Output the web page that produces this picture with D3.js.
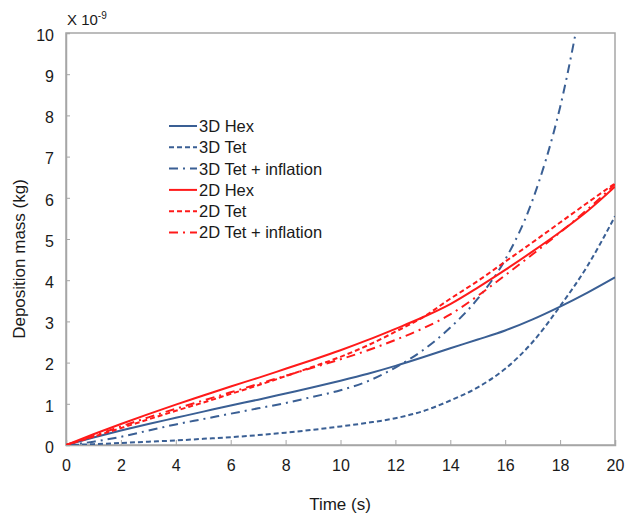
<!DOCTYPE html>
<html><head><meta charset="utf-8">
<script src="https://cdn.jsdelivr.net/npm/d3@7"></script>
<style>
body{margin:0;background:#fff;}
text{font-family:"Liberation Sans",Arial,sans-serif;fill:#1a1a1a;}
</style></head>
<body><svg id="c" width="626" height="515"></svg>
<script>
const times = [0,1,2,3,4,5,6,7,8,9,10,11,12,13,14,15,16,17,18,19,20];
const hex3D    = [0,0.18,0.35,0.51,0.66,0.81,0.96,1.1,1.25,1.4,1.56,1.73,1.92,2.13,2.35,2.56,2.78,3.05,3.36,3.7,4.07];
const tet3D    = [0,0.02,0.05,0.08,0.11,0.15,0.19,0.24,0.3,0.37,0.45,0.54,0.65,0.82,1.08,1.4,1.85,2.5,3.37,4.35,5.55];
const tetInf3D = [0,0.08,0.2,0.35,0.5,0.63,0.76,0.89,1.02,1.17,1.33,1.55,1.88,2.3,2.85,3.55,4.5,5.95,8.2,11.5,15];
const hex2D    = [0,0.26,0.51,0.75,0.98,1.2,1.42,1.63,1.85,2.07,2.3,2.55,2.82,3.1,3.42,3.82,4.25,4.7,5.17,5.68,6.27];
const tet2D    = [0,0.2,0.41,0.62,0.83,1.03,1.24,1.45,1.67,1.9,2.14,2.42,2.75,3.1,3.55,3.98,4.45,4.92,5.4,5.88,6.35];
const tetInf2D = [0,0.22,0.45,0.67,0.88,1.08,1.28,1.48,1.68,1.88,2.08,2.3,2.55,2.83,3.17,3.62,4.12,4.63,5.16,5.72,6.33];
const seriesNames = ["3D Hex","3D Tet","3D Tet + inflation","2D Hex","2D Tet","2D Tet + inflation"];
const xTicks = [0,2,4,6,8,10,12,14,16,18,20];
const yTicks = [0,1,2,3,4,5,6,7,8,9,10];

const blue = "#3a5f94", red = "#ff1a1a";
const styles = [
  {c:blue, d:null},{c:blue, d:"5,3"},{c:blue, d:"9,5,2,5"},
  {c:red, d:null},{c:red, d:"5,3"},{c:red, d:"9,5,2,5"}
];
const data = [hex3D, tet3D, tetInf3D, hex2D, tet2D, tetInf2D];

const svg = d3.select("#c");
const L=66, R=615, T=33, B=445;
const x = d3.scaleLinear().domain([0,20]).range([L,R]);
const y = d3.scaleLinear().domain([0,10]).range([B,T]);
const grey = "#a6a6a6";

svg.append("defs").append("clipPath").attr("id","clip")
  .append("rect").attr("x",L).attr("y",T).attr("width",R-L).attr("height",B-T);

svg.append("rect").attr("x",L).attr("y",T).attr("width",R-L).attr("height",B-T)
  .attr("fill","none").attr("stroke",grey).attr("stroke-width",1.5);

const xAxis = svg.append("g").attr("transform",`translate(0,${B})`)
  .call(d3.axisBottom(x).tickValues(xTicks).tickSize(-5).tickPadding(12).tickFormat(d3.format("d")));
const yAxis = svg.append("g").attr("transform",`translate(${L},0)`)
  .call(d3.axisLeft(y).tickValues(yTicks).tickSize(-4).tickPadding(12).tickFormat(d3.format("d")));
[xAxis,yAxis].forEach(a=>{
  a.select(".domain").attr("stroke",grey).attr("stroke-width",1.5);
  a.selectAll(".tick line").attr("stroke",grey);
  a.selectAll("text").attr("font-size",16).attr("font-family","Liberation Sans, Arial, sans-serif").attr("fill","#1a1a1a");
});
xAxis.selectAll("text").attr("dy","0.9em");
yAxis.selectAll("text").attr("dy","0.45em");

const line = d3.line().x((d,i)=>x(times[i])).y(d=>y(d)).curve(d3.curveMonotoneX);
const g = svg.append("g").attr("clip-path","url(#clip)");
data.forEach((s,k)=>{
  g.append("path").attr("d",line(s)).attr("fill","none")
    .attr("stroke",styles[k].c).attr("stroke-width",2)
    .attr("stroke-dasharray",styles[k].d);
});

const lg = svg.append("g");
seriesNames.forEach((n,k)=>{
  const yy = 126 + k*21.3;
  lg.append("line").attr("x1",169).attr("x2",197).attr("y1",yy).attr("y2",yy)
    .attr("stroke",styles[k].c).attr("stroke-width",2).attr("stroke-dasharray",styles[k].d);
  lg.append("text").attr("x",199).attr("y",yy).attr("dy","0.36em").attr("font-size",16.5).text(n);
});

const ex = svg.append("text").attr("x",67).attr("y",25).attr("font-size",15);
ex.append("tspan").text("X 10");
ex.append("tspan").attr("font-size",10).attr("dy",-6).text("-9");

svg.append("text").attr("x",340).attr("y",510).attr("text-anchor","middle").attr("font-size",17).text("Time (s)");
svg.append("text").attr("transform","translate(25,259) rotate(-90)").attr("text-anchor","middle").attr("font-size",17).text("Deposition mass (kg)");
</script></body></html>
